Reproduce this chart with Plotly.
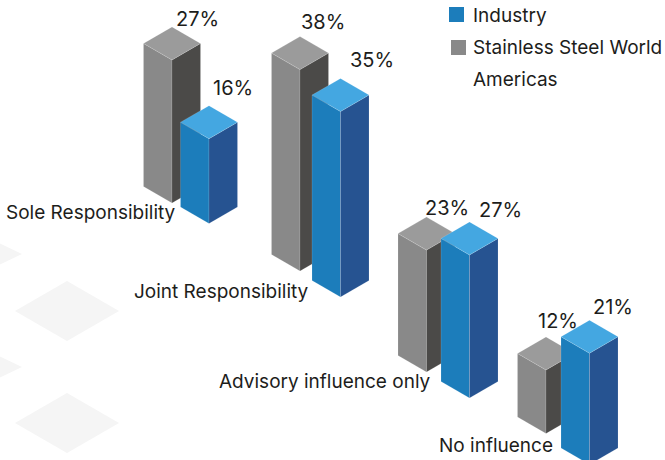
import plotly.graph_objects as go

# Chart data
categories = ["Sole Responsibility", "Joint Responsibility", "Advisory influence only", "No influence"]
stainless_values = [27, 38, 23, 12]
industry_values = [16, 35, 27, 21]
series_names = ["Industry", "Stainless Steel World", "Americas"]

# Isometric layout (pixels on a 665x460 canvas)
WIDTH, HEIGHT = 665, 460
PX_PER_UNIT = 5.3
HALF_W, HALF_D = 28.5, 16.5
FONT = "Inter, sans-serif"
INK = "#1d1d1b"

stainless_front_x = [172, 300, 426.5, 546]
stainless_floor_px = [203, 271, 372, 433.5]
industry_front_x = [209, 340.5, 469.5, 589.5]
industry_floor_px = [223.5, 297, 398, 464.5]

stainless_colors = {"front": "#898989", "side": "#4b4a48", "top": "#9b9b9b"}
industry_colors = {"front": "#1c7dbb", "side": "#265391", "top": "#44a7e1"}

# Percentage label centres and category label right edges
stainless_label_pos = [(197, 19), (323, 22), (447, 208), (558, 321)]
industry_label_pos = [(233, 88), (372, 60), (500, 210), (613, 307)]
category_label_pos = [(176, 212), (309, 291), (431, 381), (553, 445)]

# Pale diamonds in the page background
backdrop_diamonds = [(-7, 254, 29, 14), (67, 311, 52, 30), (-7, 367, 29, 14), (67, 423, 52, 30)]


def to_y(px):
    """Convert a canvas pixel row to the value-scaled y axis."""
    return -px / PX_PER_UNIT


def add_face(fig, xs, ys, color):
    fig.add_trace(go.Scatter(
        x=xs + xs[:1], y=ys + ys[:1], mode="lines", fill="toself", fillcolor=color,
        line=dict(color="rgba(255,255,255,0.22)", width=0.6),
        hoverinfo="skip", showlegend=False,
    ))


def add_bar(fig, front_x, floor_px, value, colors):
    """Draw one isometric column whose height comes from its value."""
    floor = to_y(floor_px)
    top = floor + value
    depth = HALF_D / PX_PER_UNIT
    left, right = front_x - HALF_W, front_x + HALF_W
    add_face(fig, [left, front_x, front_x, left],
             [top + depth, top, floor, floor + depth], colors["front"])
    add_face(fig, [front_x, right, right, front_x],
             [top, top + depth, floor + depth, floor], colors["side"])
    add_face(fig, [left, front_x, right, front_x],
             [top + depth, top + 2 * depth, top + depth, top], colors["top"])


def add_text(fig, x, py, text, size, anchor):
    fig.add_annotation(x=x, y=to_y(py), text=text, showarrow=False, xanchor=anchor,
                       yanchor="middle", borderpad=0, borderwidth=0,
                       font=dict(family=FONT, size=size, color=INK))


fig = go.Figure()

for i in range(len(categories)):
    add_bar(fig, stainless_front_x[i], stainless_floor_px[i], stainless_values[i], stainless_colors)
    add_bar(fig, industry_front_x[i], industry_floor_px[i], industry_values[i], industry_colors)

    sx, sy = stainless_label_pos[i]
    ix, iy = industry_label_pos[i]
    add_text(fig, sx, sy, f"{stainless_values[i]}%", 20, "center")
    add_text(fig, ix, iy, f"{industry_values[i]}%", 20, "center")
    cx, cy = category_label_pos[i]
    add_text(fig, cx, cy, categories[i], 19, "right")

# Background diamonds
shapes = []
for cx, cy, hw, hh in backdrop_diamonds:
    path = (f"M{cx - hw},{to_y(cy)} L{cx},{to_y(cy - hh)} "
            f"L{cx + hw},{to_y(cy)} L{cx},{to_y(cy + hh)} Z")
    shapes.append(dict(type="path", path=path, xref="x", yref="y", layer="below",
                       fillcolor="#f5f5f5", line=dict(width=0)))

# Legend swatches and entries
for x0, y0, color in [(449, 7, industry_colors["front"]), (451, 40, stainless_colors["front"])]:
    shapes.append(dict(type="rect", x0=x0, x1=x0 + 15, y0=to_y(y0), y1=to_y(y0 + 15),
                       xref="x", yref="y", fillcolor=color, line=dict(width=0)))
for name, py in zip(series_names, [15, 47, 79]):
    add_text(fig, 473, py, name, 19, "left")

fig.update_layout(
    width=WIDTH, height=HEIGHT, margin=dict(l=0, r=0, t=0, b=0),
    paper_bgcolor="white", plot_bgcolor="white", showlegend=False, shapes=shapes,
    xaxis=dict(range=[0, WIDTH], visible=False, fixedrange=True),
    yaxis=dict(range=[to_y(HEIGHT), 0], visible=False, fixedrange=True),
)

fig.write_html("out.html", config={"displayModeBar": False})
